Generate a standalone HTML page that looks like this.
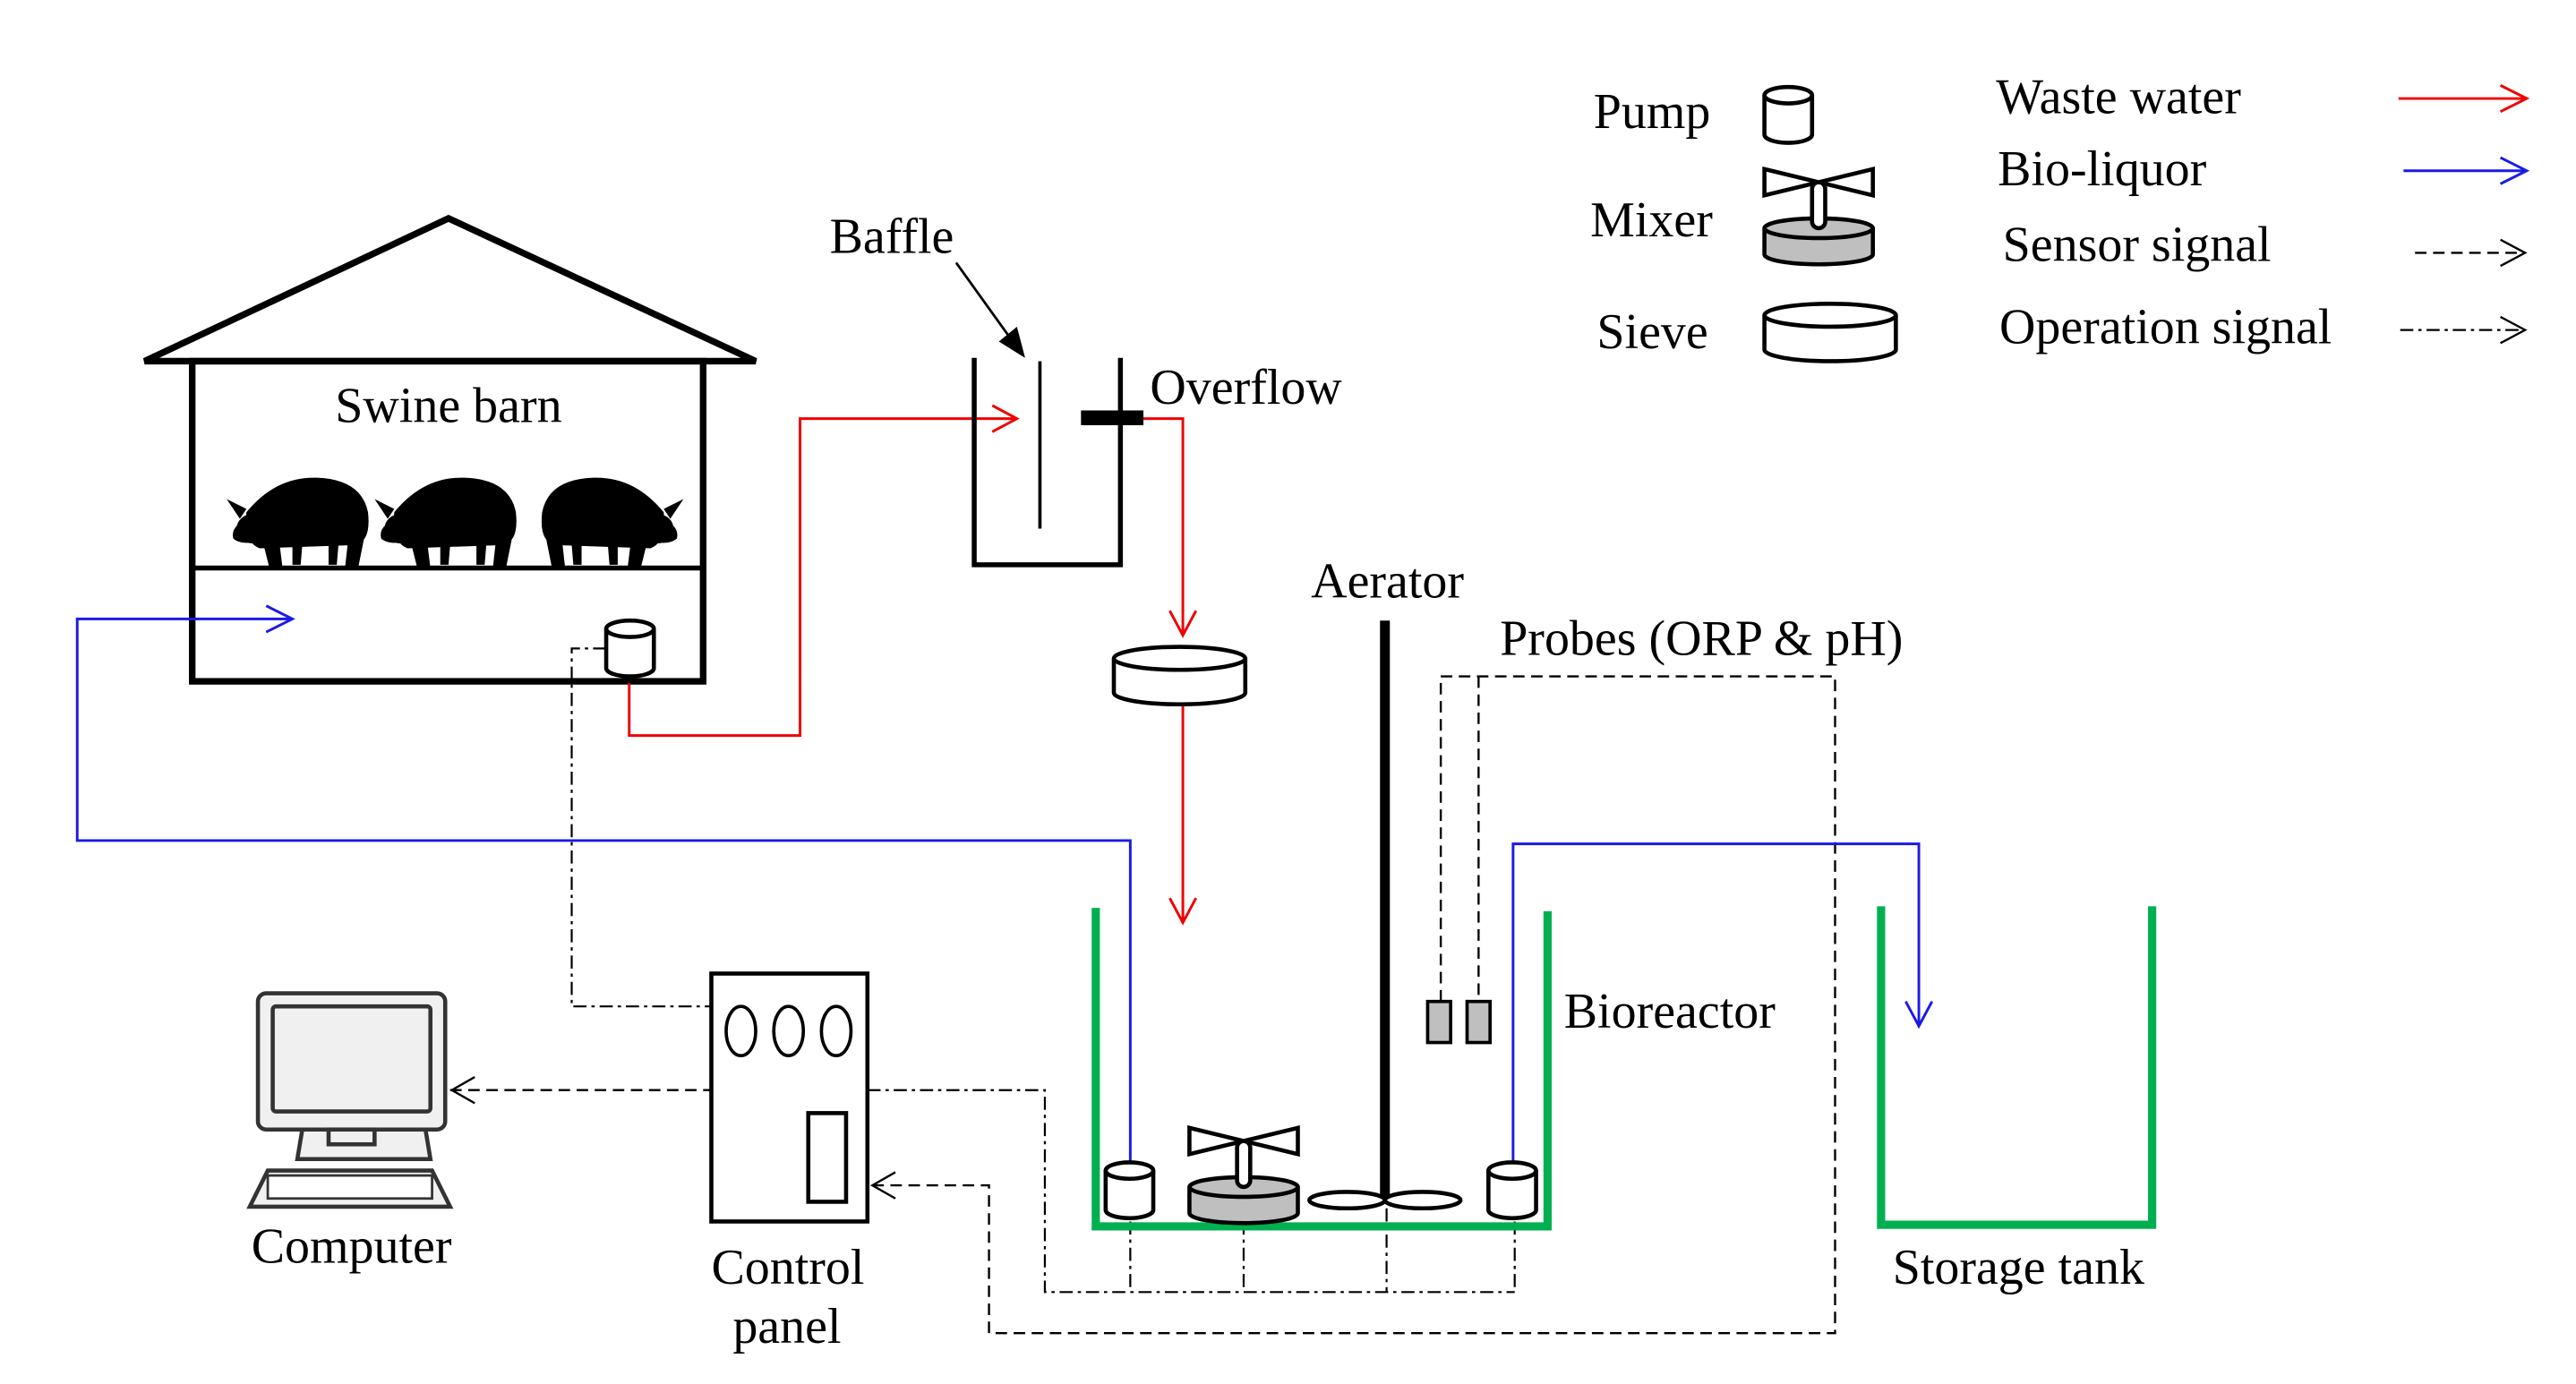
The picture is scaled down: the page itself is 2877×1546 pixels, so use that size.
<!DOCTYPE html>
<html><head><meta charset="utf-8"><style>html,body{margin:0;padding:0;background:#fff}svg{display:block}text{font-family:"Liberation Serif",serif;font-size:30.5px;fill:#000}</style></head>
<body>
<svg width="2877" height="1546" viewBox="0 0 1568 843" preserveAspectRatio="none" xmlns="http://www.w3.org/2000/svg">
<defs>
<g id="pump"><path d="M0,6 V30 A14.5,5 0 0 0 29,30 V6" fill="#fff" stroke="#000" stroke-width="2.5"/><ellipse cx="14.5" cy="6" rx="14.5" ry="5" fill="#fff" stroke="#000" stroke-width="2.5"/></g>
<g id="mixer"><path d="M0,16 V32 A33,6 0 0 0 66,32 V16" fill="#bfbfbf" stroke="#000" stroke-width="2.5"/><ellipse cx="33" cy="16" rx="33" ry="6" fill="#bfbfbf" stroke="#000" stroke-width="2.5"/><path d="M0,-20 L66,-4 V-20 L0,-4 Z" fill="#fff" stroke="#000" stroke-width="2.5"/><rect x="29" y="-12" width="8" height="28" rx="4" fill="#fff" stroke="#000" stroke-width="2.5"/></g>
<g id="sieve"><path d="M0,7 V28 A40,7 0 0 0 80,28 V7" fill="#fff" stroke="#000" stroke-width="2.5"/><ellipse cx="40" cy="7" rx="40" ry="7" fill="#fff" stroke="#000" stroke-width="2.5"/></g>
<g id="pig"><path d="M12,22 Q30,0 55,1 Q82,2 86,22 Q88,40 78,42 L20,44 Q10,40 12,22 Z"/><path d="M12,20 L0,14 L8,26 Z M14,26 Q2,30 4,38 Q8,42 20,40 Z"/><ellipse cx="16" cy="32" rx="10" ry="9"/><path d="M22,40 L26,56 L34,56 L32,40 Z M40,42 L40,54 L45,54 L46,42 Z M62,42 L62,54 L67,54 L68,42 Z M74,38 L72,56 L80,56 L84,36 Z"/></g>
</defs>
<!-- barn -->
<polygon points="88,220 273,133 460,220" fill="none" stroke="#000" stroke-width="4"/>
<rect x="117" y="220" width="311" height="195" fill="none" stroke="#000" stroke-width="4"/>
<line x1="117" y1="346" x2="428" y2="346" stroke="#000" stroke-width="3"/>
<text x="204" y="257">Swine barn</text>
<use href="#pig" x="138" y="290"/>
<use href="#pig" x="228" y="290"/>
<g transform="translate(416,290) scale(-1,1)"><use href="#pig"/></g>
<use href="#pump" x="369" y="377"/>
<!-- red -->
<g fill="none" stroke="#e00" stroke-width="1.6">
<polyline points="383,416 383,448 487,448 487,255 618,255"/><polyline points="604,247 619,255 604,263"/>
<polyline points="696,255 720,255 720,386"/><polyline points="712,372 720,387 728,372"/>
<polyline points="720,430 720,561"/><polyline points="712,547 720,562 728,547"/>
<polyline points="1460,60 1537,60"/><polyline points="1522,52 1538,60 1522,68"/>
</g>
<!-- baffle tank -->
<polyline points="593,218 593,344 682,344 682,218" fill="none" stroke="#000" stroke-width="3"/>
<line x1="633" y1="220" x2="633" y2="322" stroke="#000" stroke-width="2"/>
<rect x="658" y="250" width="38" height="9" fill="#000"/>
<text x="505" y="154">Baffle</text>
<text x="700" y="246">Overflow</text>
<line x1="582" y1="160" x2="615" y2="206" stroke="#000" stroke-width="1.5"/>
<polygon points="624,218 608,208 619,199" fill="#000"/>
<use href="#sieve" x="678" y="394"/>
<!-- aerator, probes -->
<text x="798" y="364">Aerator</text>
<line x1="843" y1="378" x2="843" y2="730" stroke="#000" stroke-width="6"/>
<ellipse cx="820" cy="731" rx="23" ry="5" fill="#fff" stroke="#000" stroke-width="2.5"/>
<ellipse cx="866" cy="731" rx="23" ry="5" fill="#fff" stroke="#000" stroke-width="2.5"/>
<text x="913" y="399">Probes (ORP &amp; pH)</text>
<g fill="none" stroke="#000" stroke-width="1.3" stroke-dasharray="7,4">
<polyline points="877,610 877,412 1117,412 1117,812 602,812 602,722 532,722"/>
<line x1="900" y1="412" x2="900" y2="610"/>
<polyline points="274,664 432,664"/>
<line x1="1470" y1="154" x2="1536" y2="154"/>
</g>
<g fill="none" stroke="#000" stroke-width="1.3">
<polyline points="545,714 531,722 545,730"/><polyline points="289,656 275,664 289,672"/>
<polyline points="1522,146 1537,154 1522,162"/><polyline points="1522,193 1537,201 1522,209"/>
</g>
<rect x="869" y="610" width="14" height="25" fill="#bfbfbf" stroke="#000" stroke-width="2"/>
<rect x="893" y="610" width="14" height="25" fill="#bfbfbf" stroke="#000" stroke-width="2"/>
<!-- dash-dot -->
<g fill="none" stroke="#000" stroke-width="1.2" stroke-dasharray="8,3,2,3">
<polyline points="369,395 348,395 348,613 432,613"/>
<polyline points="528,664 636,664 636,787 922,787"/>
<line x1="688" y1="744" x2="688" y2="787"/><line x1="757" y1="744" x2="757" y2="787"/>
<line x1="844" y1="736" x2="844" y2="787"/><line x1="922" y1="744" x2="922" y2="787"/>
<line x1="1461" y1="201" x2="1536" y2="201"/>
</g>
<!-- blue -->
<g fill="none" stroke="#1a1ae6" stroke-width="1.6">
<polyline points="688,707 688,512 47,512 47,377 177,377"/><polyline points="162,369 178,377 162,385"/>
<polyline points="921,707 921,514 1168,514 1168,624"/><polyline points="1160,610 1168,625 1176,610"/>
<polyline points="1463,104 1537,104"/><polyline points="1522,96 1538,104 1522,112"/>
</g>
<!-- tanks -->
<polyline points="667,553 667,747 942,747 942,555" fill="none" stroke="#00b050" stroke-width="5"/>
<polyline points="1145,552 1145,746 1310,746 1310,552" fill="none" stroke="#00b050" stroke-width="5"/>
<text x="952" y="626">Bioreactor</text>
<text x="1152" y="782">Storage tank</text>
<use href="#pump" x="673" y="707"/>
<use href="#pump" x="906" y="707"/>
<use href="#mixer" x="724" y="707"/>
<!-- control panel -->
<rect x="433" y="593" width="95" height="151" fill="none" stroke="#000" stroke-width="2.5"/>
<ellipse cx="451" cy="628" rx="9" ry="15" fill="none" stroke="#000" stroke-width="2"/>
<ellipse cx="480" cy="628" rx="9" ry="15" fill="none" stroke="#000" stroke-width="2"/>
<ellipse cx="509" cy="628" rx="9" ry="15" fill="none" stroke="#000" stroke-width="2"/>
<rect x="492" y="678" width="23" height="54" fill="none" stroke="#000" stroke-width="2.5"/>
<text x="433" y="782">Control</text>
<text x="446" y="818">panel</text>
<!-- computer -->
<g stroke="#333" stroke-width="2.5" fill="#f0f0f0">
<rect x="157" y="605" width="114" height="83" rx="5"/>
<rect x="166" y="613" width="96" height="64" rx="2"/>
<path d="M184,688 H259 L262,706 H181 Z"/>
<rect x="200" y="688" width="28" height="9"/>
<path d="M163,713 H263 L274,735 H152 Z"/>
<rect x="163" y="716" width="100" height="14" fill="#fff" stroke-width="1.5"/>
</g>
<text x="153" y="769">Computer</text>
<!-- legend -->
<text x="970" y="78">Pump</text>
<text x="968" y="144">Mixer</text>
<text x="972" y="212">Sieve</text>
<use href="#pump" x="1074" y="52"/>
<use href="#mixer" x="1074" y="123"/>
<use href="#sieve" x="1074" y="185"/>
<text x="1215" y="69">Waste water</text>
<text x="1216" y="113">Bio-liquor</text>
<text x="1219" y="159">Sensor signal</text>
<text x="1217" y="209">Operation signal</text>
</svg>
</body></html>
